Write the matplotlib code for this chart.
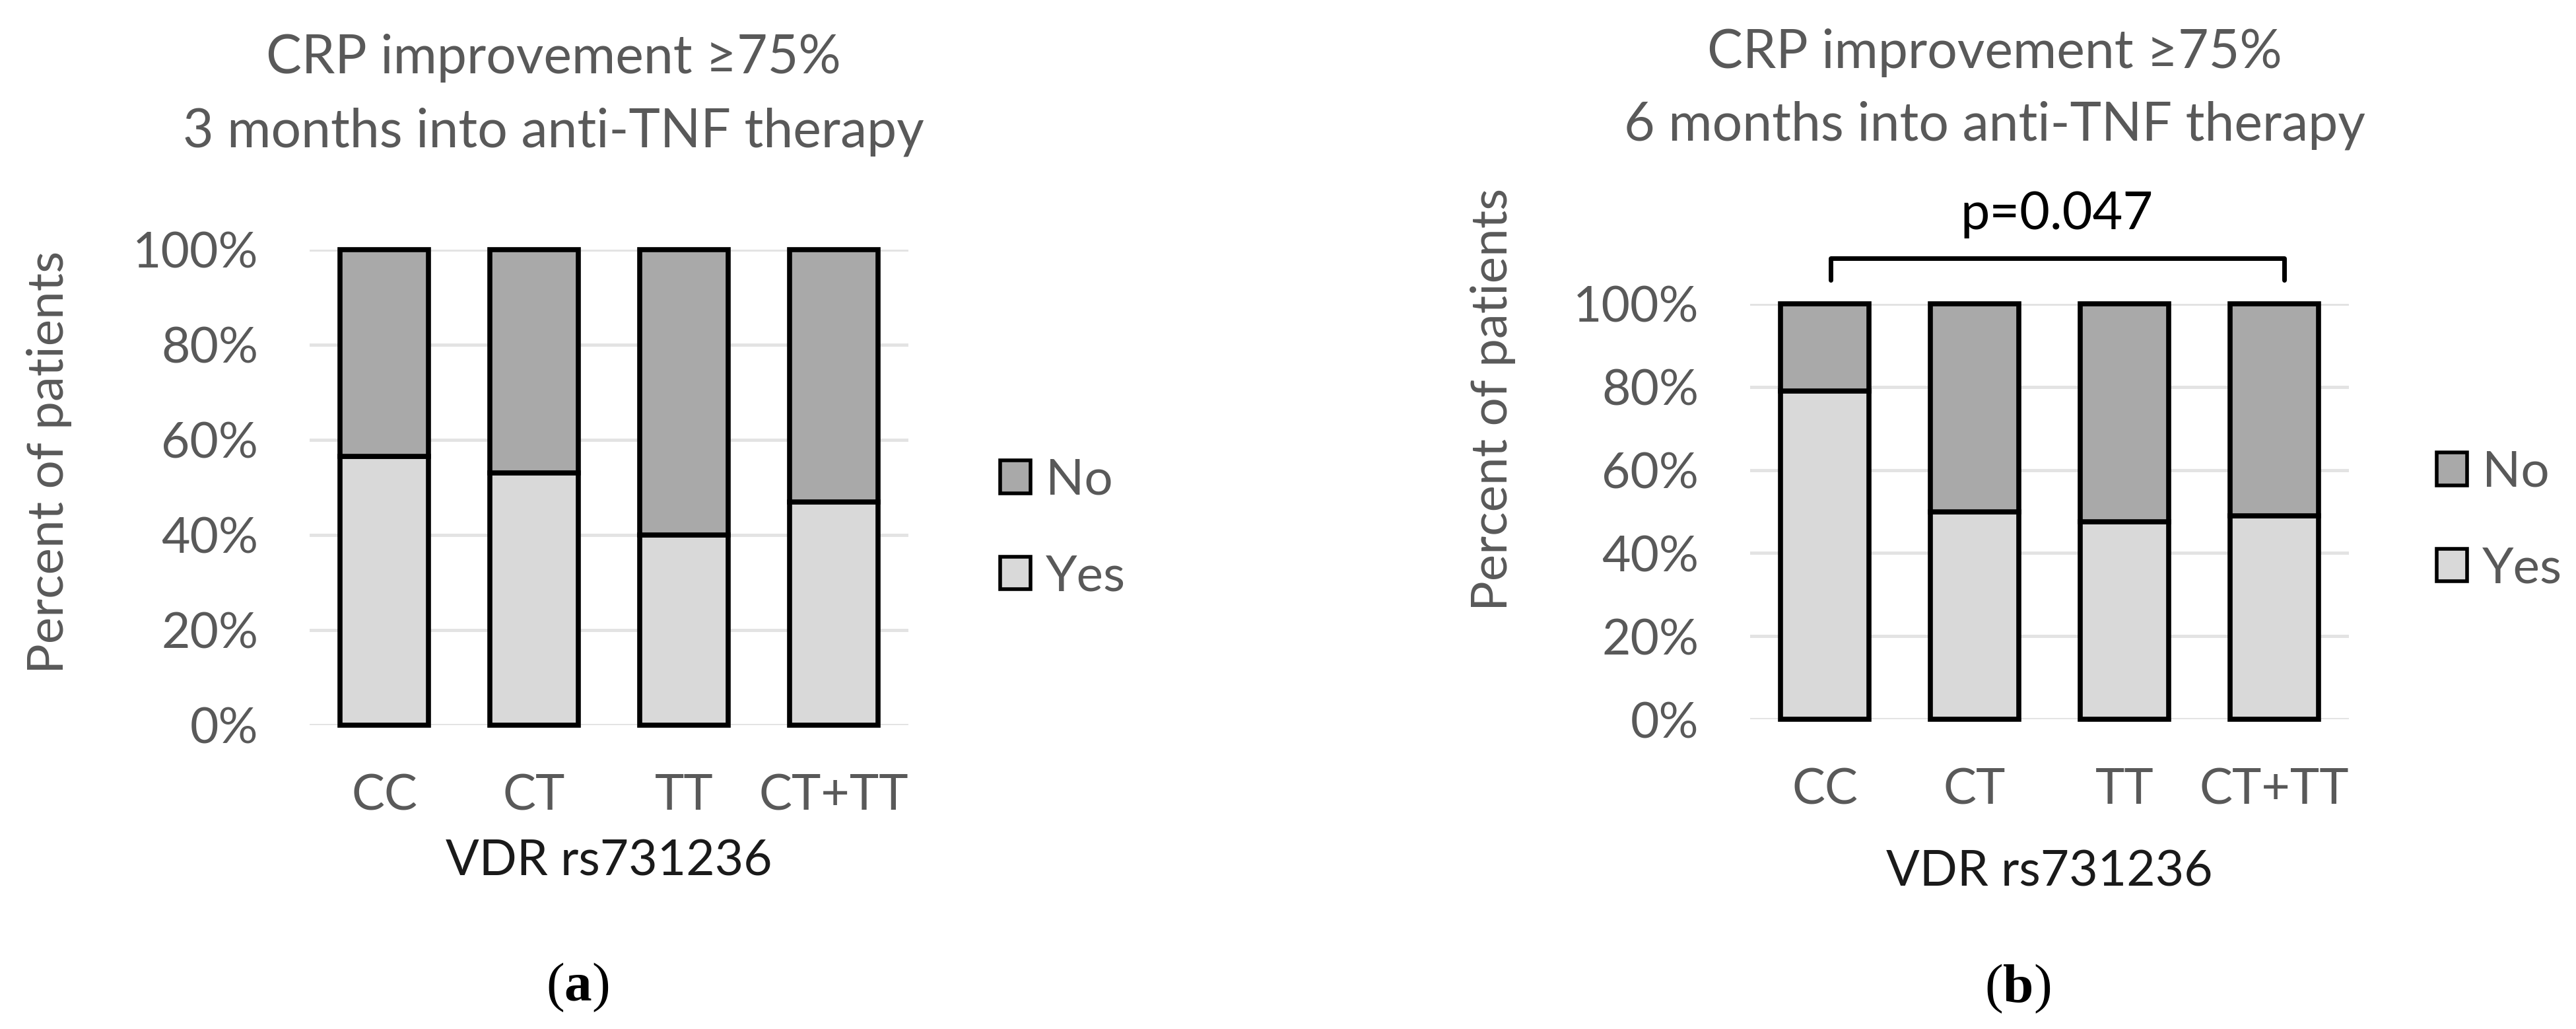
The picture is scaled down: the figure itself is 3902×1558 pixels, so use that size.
import matplotlib
matplotlib.use('Agg')
import matplotlib.pyplot as plt
from matplotlib.patches import Patch

plt.rcParams['font.family'] = ['Lato', 'DejaVu Sans']
plt.rcParams['mathtext.fontset'] = 'custom'
plt.rcParams['mathtext.rm'] = 'Liberation Serif'
plt.rcParams['mathtext.bf'] = 'Liberation Serif:bold'

genotypes = ['CC', 'CT', 'TT', 'CT+TT']
yes_3m = [56.5, 53.0, 40.0, 47.0]
yes_6m = [79.0, 50.0, 47.5, 49.0]
no_3m = [100 - v for v in yes_3m]
no_6m = [100 - v for v in yes_6m]
yticks = [0, 20, 40, 60, 80, 100]
ytick_labels = ['0%', '20%', '40%', '60%', '80%', '100%']

W, H = 3902, 1558
fig = plt.figure(figsize=(W / 100, H / 100), dpi=100)

grey_txt = '#595959'
col_yes = '#d9d9d9'
col_no = '#a9a9a9'


def fx(px):
    return px / W


def fy(py):
    return 1 - py / H


def draw_panel(rect, yes, no):
    ax = fig.add_axes(rect)
    x = range(len(genotypes))
    ax.bar(x, yes, width=0.59, color=col_yes, edgecolor='black', linewidth=5.5, clip_on=False, zorder=3)
    ax.bar(x, no, width=0.59, bottom=yes, color=col_no, edgecolor='black', linewidth=5.5, clip_on=False, zorder=3)
    ax.set_xlim(-0.5, 3.5)
    ax.set_ylim(0, 100)
    ax.set_yticks(yticks)
    ax.set_yticklabels(ytick_labels)
    ax.set_xticks(list(x))
    ax.set_xticklabels(genotypes)
    ax.yaxis.grid(True, color='#e3e3e3', linewidth=3.5, zorder=0)
    ax.set_axisbelow(True)
    for s in ax.spines.values():
        s.set_visible(False)
    ax.tick_params(axis='both', length=0, labelsize=54, labelcolor=grey_txt)
    ax.tick_params(axis='y', pad=56)
    ax.tick_params(axis='x', pad=52)
    return ax


# panel (a)
ax1 = draw_panel([469 / W, 1 - 1098 / H, 907 / W, 720 / H], yes_3m, no_3m)
ax1.set_xlabel('VDR rs731236', fontsize=54, color='#1a1a1a', labelpad=22)
fig.text(fx(838), fy(88), 'CRP improvement \u226575%', fontsize=58, color=grey_txt, ha='center', va='center')
fig.text(fx(838), fy(200), '3 months into anti-TNF therapy', fontsize=58, color=grey_txt, ha='center', va='center')
fig.text(fx(75), fy(700), 'Percent of patients', fontsize=55, color=grey_txt, rotation=90, ha='center', va='center')

# panel (b)
ax2 = draw_panel([2651 / W, 1 - 1089 / H, 907 / W, 629 / H], yes_6m, no_6m)
ax2.set_xlabel('VDR rs731236', fontsize=54, color='#1a1a1a', labelpad=40)
fig.text(fx(3021), fy(80), 'CRP improvement \u226575%', fontsize=58, color=grey_txt, ha='center', va='center')
fig.text(fx(3021), fy(190), '6 months into anti-TNF therapy', fontsize=58, color=grey_txt, ha='center', va='center')
fig.text(fx(2262), fy(605), 'Percent of patients', fontsize=55, color=grey_txt, rotation=90, ha='center', va='center')

# significance bracket
bx = [0.04, 0.04, 3.07, 3.07]
by = [105.7, 111, 111, 105.7]
ax2.plot(bx, by, color='black', linewidth=5, clip_on=False, solid_joinstyle='round', solid_capstyle='round')
ax2.text(1.55, 121.5, 'p=0.047', fontsize=57, color='black', ha='center', va='center')

# legends
for ax, lx, ly in [(ax1, 1515, 800), (ax2, 3691, 788)]:
    handles = [Patch(facecolor=col_no, edgecolor='black', linewidth=4),
               Patch(facecolor=col_yes, edgecolor='black', linewidth=4)]
    ax.legend(handles, ['No', 'Yes'], loc='center left', bbox_to_anchor=(fx(lx), fy(ly)),
              bbox_transform=fig.transFigure, frameon=False, fontsize=55, labelcolor=grey_txt,
              handlelength=0.6, handleheight=0.62, handletextpad=0.3, labelspacing=1.0,
              borderpad=0, borderaxespad=0)

# subfigure labels
fig.text(fx(875), fy(1495), r'($\mathbf{a}$)', fontsize=60, family='Liberation Serif', ha='center', va='center')
fig.text(fx(3056), fy(1497), r'($\mathbf{b}$)', fontsize=60, family='Liberation Serif', ha='center', va='center')

fig.savefig('out.png', dpi=100, facecolor='white')
